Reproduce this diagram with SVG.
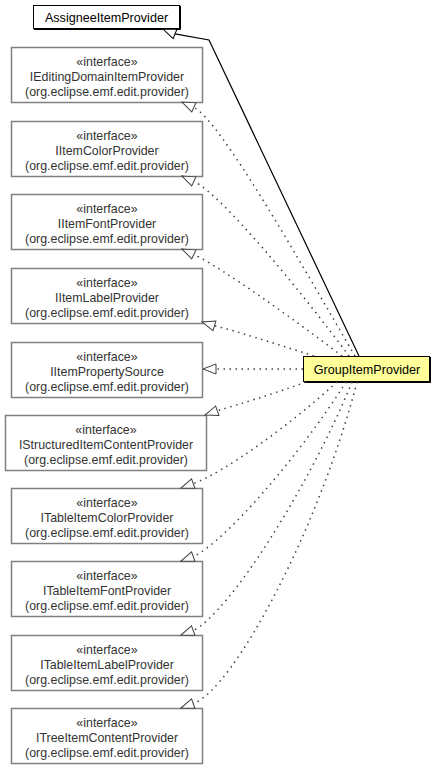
<svg xmlns="http://www.w3.org/2000/svg" width="437" height="768" viewBox="0 0 437 768">
<style>
  .iface rect { fill: #ffffff; stroke: #808080; stroke-width: 1.5; }
  .iface text { font-family: "Liberation Sans", Arial, sans-serif; font-size: 12.4px; fill: #333333; text-anchor: middle; }
  .cls rect { stroke: #000000; stroke-width: 1; }
  .cls path { fill: none; stroke: #000000; stroke-width: 1; }
  .cls text { font-family: "Liberation Sans", Arial, sans-serif; font-size: 12.6px; fill: #000000; text-anchor: middle; }
  .dot { fill: none; stroke: #404040; stroke-width: 1.5; stroke-dasharray: 1.5 4.5; marker-end: url(#real); }
  .gen { fill: none; stroke: #000000; stroke-width: 1.2; marker-end: url(#genArrow); }
</style>
<defs>
  <marker id="real" markerUnits="userSpaceOnUse" markerWidth="16" markerHeight="12" refX="14" refY="6" orient="auto" overflow="visible">
    <path d="M1,1 L14,6 L1,11 Z" fill="#ffffff" stroke="#404040" stroke-width="1"/>
  </marker>
  <marker id="genArrow" markerUnits="userSpaceOnUse" markerWidth="16" markerHeight="12" refX="14" refY="6" orient="auto" overflow="visible">
    <path d="M1,1 L14,6 L1,11 Z" fill="#ffffff" stroke="#000000" stroke-width="1"/>
  </marker>
</defs>
<rect width="437" height="768" fill="#ffffff"/>

<g id="AssigneeItemProvider" class="cls">
  <rect x="33.5" y="5.5" width="146" height="23" fill="#ffffff"/>
  <path d="M180.5,6 V29.5 H34"/>
  <text x="106.5" y="21.5">AssigneeItemProvider</text>
</g>

<g id="IEditingDomainItemProvider" class="iface">
  <rect x="11.5" y="47.5" width="191" height="55"/>
  <text x="107" y="65.5">«interface»</text>
  <text x="107" y="80.5">IEditingDomainItemProvider</text>
  <text x="107" y="95.5">(org.eclipse.emf.edit.provider)</text>
</g>
<g id="IItemColorProvider" class="iface">
  <rect x="11.5" y="121.5" width="191" height="55"/>
  <text x="107" y="139.5">«interface»</text>
  <text x="107" y="154.5">IItemColorProvider</text>
  <text x="107" y="169.5">(org.eclipse.emf.edit.provider)</text>
</g>
<g id="IItemFontProvider" class="iface">
  <rect x="11.5" y="194.5" width="191" height="55"/>
  <text x="107" y="212.5">«interface»</text>
  <text x="107" y="227.5">IItemFontProvider</text>
  <text x="107" y="242.5">(org.eclipse.emf.edit.provider)</text>
</g>
<g id="IItemLabelProvider" class="iface">
  <rect x="11.5" y="268.5" width="191" height="55"/>
  <text x="107" y="286.5">«interface»</text>
  <text x="107" y="301.5">IItemLabelProvider</text>
  <text x="107" y="316.5">(org.eclipse.emf.edit.provider)</text>
</g>
<g id="IItemPropertySource" class="iface">
  <rect x="11.5" y="342.5" width="191" height="55"/>
  <text x="107" y="360.5">«interface»</text>
  <text x="107" y="375.5">IItemPropertySource</text>
  <text x="107" y="390.5">(org.eclipse.emf.edit.provider)</text>
</g>
<g id="IStructuredItemContentProvider" class="iface">
  <rect x="5.5" y="415.5" width="201" height="55"/>
  <text x="106" y="433.5">«interface»</text>
  <text x="106" y="448.5">IStructuredItemContentProvider</text>
  <text x="106" y="463.5">(org.eclipse.emf.edit.provider)</text>
</g>
<g id="ITableItemColorProvider" class="iface">
  <rect x="11.5" y="488.5" width="191" height="55"/>
  <text x="107" y="506.5">«interface»</text>
  <text x="107" y="521.5">ITableItemColorProvider</text>
  <text x="107" y="536.5">(org.eclipse.emf.edit.provider)</text>
</g>
<g id="ITableItemFontProvider" class="iface">
  <rect x="11.5" y="561.5" width="191" height="55"/>
  <text x="107" y="579.5">«interface»</text>
  <text x="107" y="594.5">ITableItemFontProvider</text>
  <text x="107" y="609.5">(org.eclipse.emf.edit.provider)</text>
</g>
<g id="ITableItemLabelProvider" class="iface">
  <rect x="11.5" y="635.5" width="191" height="55"/>
  <text x="107" y="653.5">«interface»</text>
  <text x="107" y="668.5">ITableItemLabelProvider</text>
  <text x="107" y="683.5">(org.eclipse.emf.edit.provider)</text>
</g>
<g id="ITreeItemContentProvider" class="iface">
  <rect x="11.5" y="708.5" width="191" height="55"/>
  <text x="107" y="726.5">«interface»</text>
  <text x="107" y="741.5">ITreeItemContentProvider</text>
  <text x="107" y="756.5">(org.eclipse.emf.edit.provider)</text>
</g>

<g id="GroupItemProvider" class="cls">
  <rect x="303.5" y="356.5" width="126" height="25" fill="#ffff99"/>
  <path d="M430.5,357 V382.5 H304"/>
  <text x="367" y="373.5">GroupItemProvider</text>
</g>

<g id="connectors">
  <path class="gen" d="M359,356 L209,40 L175,33.9 L163,29"/>
  <path class="dot" d="M355,356 C300,262 220,120 194,107.5 L182,102"/>
  <path class="dot" d="M349,356 C300,290 222,195 194,181.5 L182,176"/>
  <path class="dot" d="M342,356 C295,320 222,268 194,254.5 L182,249"/>
  <path class="dot" d="M314,356 C270,342 236,331 214.4,325.8 L202,322"/>
  <path class="dot" d="M303,369 L203,369"/>
  <path class="dot" d="M306,382 C270,395 240,404 217.3,410.7 L205,415"/>
  <path class="dot" d="M337,382 C290,425 225,472 193.2,483.6 L181,488"/>
  <path class="dot" d="M346,382 C300,455 225,542 193.2,556.6 L181,561"/>
  <path class="dot" d="M352,382 C310,485 230,612 193.2,630.6 L181,635"/>
  <path class="dot" d="M357,382 C320,525 235,688 193.2,703.6 L181,708"/>
</g>
</svg>
